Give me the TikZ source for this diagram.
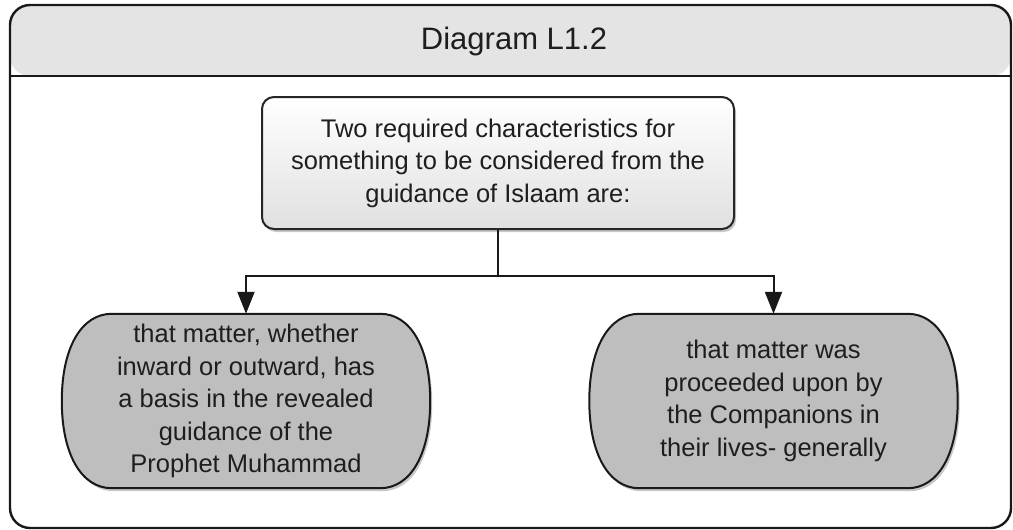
\documentclass[tikz,border=0pt]{standalone}
\usepackage{fontspec}
\setmainfont{Liberation Sans}
\usetikzlibrary{arrows.meta,shadows}
\pgfdeclarelayer{back}
\pgfdeclarelayer{bg}
\pgfsetlayers{back,bg,main}
\definecolor{headgray}{HTML}{E4E4E4}
\definecolor{boxgray}{HTML}{BEBEBE}
\definecolor{txt}{HTML}{1E1E1E}
\begin{document}
\begin{tikzpicture}[x=1pt,y=-1pt,
  frameline/.style={line width=2.4pt, draw=black!90},
  softshadow/.style={drop shadow={shadow xshift=2pt, shadow yshift=-3pt, fill=black, opacity=0.22}},
  bodytext/.style={align=center, text=txt, font=\fontsize{25.5}{32.5}\selectfont},
  topbox/.style={bodytext, draw=black!85, line width=2pt, rounded corners=12pt,
    top color=white, bottom color=black!12, minimum width=472pt, minimum height=132pt,
    inner sep=0pt, softshadow},
  sidetext/.style={bodytext, minimum width=368pt, minimum height=174pt, inner sep=0pt},
  sideshape/.style={draw=black!90, line width=2pt, fill=boxgray, softshadow},
  conn/.style={line width=2pt, draw=black!90},
  arr/.style={conn, -{Triangle[width=17pt,length=22pt]}}
]
\useasboundingbox (0,0) rectangle (1013,530);
% outer frame
\begin{pgfonlayer}{back}
\fill[white, rounded corners=20pt] (10,5) rectangle (1011,528);
\fill[headgray, rounded corners=20pt] (10,76) -- (10,5) -- (1011,5) -- (1011,76) -- cycle;
\draw[frameline] (10,76) -- (1011,76);
\draw[frameline, rounded corners=20pt] (10,5) rectangle (1011,528);
\end{pgfonlayer}
\node[font=\fontsize{31}{36}\selectfont, text=txt] (title) at (514,41) {Diagram L1.2};

% top box
\node[topbox] (T) at (498,163) {Two required characteristics for\\something to be considered from the\\guidance of Islaam are:};

% side boxes (text)
\node[sidetext] (L) at (246,401) {that matter, whether\\inward or outward, has\\a basis in the revealed\\guidance of the\\Prophet Muhammad};
\node[sidetext] (R) at (773.5,401) {that matter was\\proceeded upon by\\the Companions in\\their lives- generally};

\begin{pgfonlayer}{bg}
\foreach \n in {L,R}{
  \draw[sideshape] ([xshift=50pt]\n.north west) -- ([xshift=-50pt]\n.north east)
    .. controls +(30,0) and +(0,-54) .. (\n.east)
    .. controls +(0,54) and +(30,0) .. ([xshift=-50pt]\n.south east)
    -- ([xshift=50pt]\n.south west)
    .. controls +(-30,0) and +(0,54) .. (\n.west)
    .. controls +(0,-54) and +(-30,0) .. ([xshift=50pt]\n.north west) -- cycle;
}
\end{pgfonlayer}

% connectors
\draw[conn] (T.south) -- ++(0,46) coordinate (J);
\draw[arr] (J) -| (L.north);
\draw[arr] (J) -| (R.north);
\end{tikzpicture}
\end{document}
